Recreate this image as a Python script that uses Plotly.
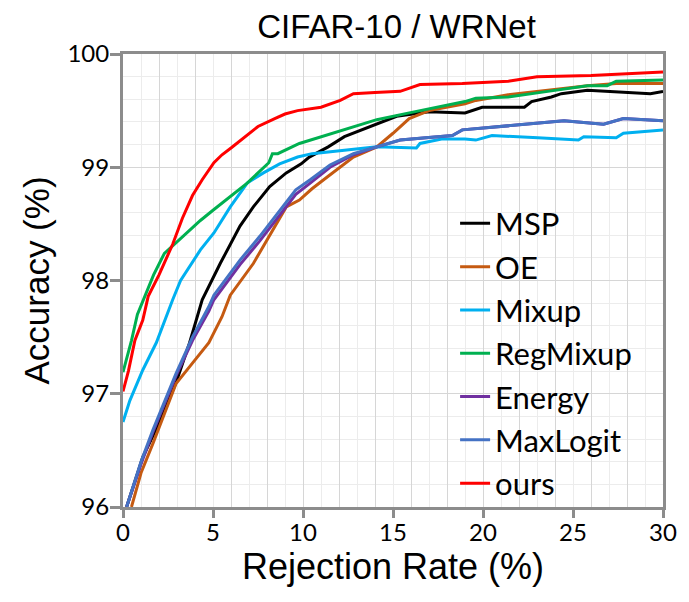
import plotly.graph_objects as go

# ---- data ----
series_names = ["MSP", "OE", "Mixup", "RegMixup", "Energy", "MaxLogit", "ours"]
series_colors = ["#000000", "#c55a11", "#00b0f0", "#00b050", "#7030a0", "#4472c4", "#ff0000"]

msp_x = [0.2, 1.1, 2.0, 2.95, 3.7, 4.4, 5.4, 6.5, 7.24, 8.15, 9.07, 9.9, 10.35, 11.4, 12.3, 13.7, 15.2, 17.0, 18.7, 19.0, 19.95, 22.3, 22.7, 23.8, 24.35, 25.8, 29.3, 30]
msp_y = [96.0, 96.44, 96.74, 97.1, 97.45, 97.83, 98.15, 98.48, 98.65, 98.83, 98.95, 99.03, 99.09, 99.18, 99.27, 99.36, 99.45, 99.49, 99.48, 99.48, 99.53, 99.53, 99.58, 99.62, 99.65, 99.68, 99.65, 99.67]

oe_x = [0.47, 1.0, 1.66, 2.3, 2.95, 3.86, 4.77, 5.5, 5.96, 7.24, 8.34, 9.07, 9.8, 10.5, 11.4, 12.8, 14.1, 15.0, 15.9, 17.0, 19.0, 19.6, 21.4, 23.6, 25.8, 27.4, 30]
oe_y = [96.0, 96.3, 96.56, 96.82, 97.09, 97.27, 97.45, 97.68, 97.87, 98.15, 98.45, 98.65, 98.71, 98.81, 98.92, 99.09, 99.18, 99.30, 99.43, 99.5, 99.56, 99.59, 99.64, 99.68, 99.72, 99.74, 99.74]

mixup_x = [0, 0.38, 1.1, 1.85, 2.76, 3.2, 4.3, 5.05, 5.96, 6.9, 7.8, 8.7, 9.7, 10.5, 12.3, 14.1, 16.3, 16.5, 17.7, 19.0, 19.6, 20.5, 23.05, 25.3, 25.6, 27.4, 27.8, 30]
mixup_y = [96.75, 96.94, 97.21, 97.45, 97.83, 98.0, 98.27, 98.42, 98.65, 98.86, 98.95, 99.03, 99.09, 99.12, 99.15, 99.18, 99.17, 99.21, 99.25, 99.25, 99.24, 99.28, 99.26, 99.24, 99.27, 99.26, 99.30, 99.33]

regmixup_x = [0, 0.2, 0.47, 0.8, 1.2, 1.7, 2.3, 3.2, 4.3, 5.0, 5.8, 6.9, 7.5, 8.1, 8.3, 8.6, 9.8, 10.4, 12.3, 14.1, 15.9, 17.2, 19.0, 19.6, 21.4, 23.6, 25.8, 26.9, 27.4, 30]
regmixup_y = [97.19, 97.3, 97.47, 97.7, 97.86, 98.05, 98.24, 98.37, 98.53, 98.62, 98.72, 98.86, 98.95, 99.04, 99.12, 99.12, 99.21, 99.24, 99.33, 99.42, 99.48, 99.52, 99.58, 99.61, 99.62, 99.67, 99.72, 99.72, 99.76, 99.77]

energy_x = [0.2, 1.0, 1.66, 2.95, 3.86, 4.77, 5.05, 6.5, 7.6, 8.7, 9.6, 10.4, 11.5, 12.8, 14.1, 15.4, 16.8, 18.3, 18.85, 19.6, 21.4, 24.5, 26.7, 27.8, 30]
energy_y = [96.0, 96.38, 96.66, 97.16, 97.47, 97.73, 97.83, 98.14, 98.35, 98.58, 98.76, 98.86, 99.0, 99.11, 99.18, 99.24, 99.26, 99.28, 99.33, 99.34, 99.37, 99.41, 99.38, 99.43, 99.41]

maxlogit_x = [0.2, 1.0, 1.66, 2.95, 3.86, 4.77, 5.05, 6.5, 7.6, 8.7, 9.6, 10.4, 11.5, 12.8, 14.1, 15.4, 16.8, 18.3, 18.85, 19.6, 21.4, 24.5, 26.7, 27.8, 30]
maxlogit_y = [96.0, 96.4, 96.68, 97.18, 97.5, 97.77, 97.87, 98.18, 98.39, 98.62, 98.8, 98.89, 99.02, 99.12, 99.18, 99.24, 99.26, 99.28, 99.33, 99.34, 99.37, 99.41, 99.38, 99.43, 99.41]

ours_x = [0, 0.3, 0.66, 1.1, 1.4, 2.0, 2.76, 3.3, 3.86, 4.4, 5.05, 5.5, 6.0, 6.7, 7.5, 8.43, 9.0, 9.7, 10.5, 11.0, 12.07, 12.8, 14.0, 15.4, 16.5, 18.85, 21.4, 23.0, 26.0, 28.2, 30]
ours_y = [97.02, 97.2, 97.47, 97.65, 97.86, 98.05, 98.32, 98.55, 98.75, 98.89, 99.04, 99.11, 99.17, 99.26, 99.36, 99.43, 99.47, 99.5, 99.52, 99.53, 99.59, 99.65, 99.66, 99.67, 99.73, 99.74, 99.76, 99.8, 99.81, 99.83, 99.84]

x_tick_vals = [0, 5, 10, 15, 20, 25, 30]
y_tick_vals = [96, 97, 98, 99, 100]

all_x = [msp_x, oe_x, mixup_x, regmixup_x, energy_x, maxlogit_x, ours_x]
all_y = [msp_y, oe_y, mixup_y, regmixup_y, energy_y, maxlogit_y, ours_y]

AXIS_GRAY = "#8c8c8c"

fig = go.Figure()
for i, (name, color, xs, ys) in enumerate(zip(series_names, series_colors, all_x, all_y)):
    # the last series (drawn on top) lives on the labelled overlay x-axis
    xa = "x2" if i == len(series_names) - 1 else "x"
    fig.add_trace(go.Scatter(x=xs, y=ys, mode="lines", name=name,
                             legendgroup=name, xaxis=xa, yaxis="y",
                             line=dict(color=color, width=3)))

# page body adds an 8px offset, so the figure is sized 8px smaller
fig.update_layout(
    width=681, height=594,
    margin=dict(l=115, r=19, t=46, b=95),
    paper_bgcolor="white", plot_bgcolor="white",
    title=dict(text="CIFAR-10 / WRNet", x=(115 + 662) / 2 / 681, xanchor="center",
               y=1 - 18 / 594, yanchor="middle", yref="container",
               font=dict(family="Liberation Sans, Arial, sans-serif", size=33, color="#000000")),
    showlegend=True,
    legend=dict(x=0.615, y=0.685, xanchor="left", yanchor="top",
                bgcolor="rgba(0,0,0,0)", borderwidth=0,
                font=dict(family="Lato, sans-serif", size=31, color="#000000"),
                tracegroupgap=1, traceorder="normal"),
    xaxis=dict(range=[0, 30], dtick=2, tick0=0, showticklabels=False, ticks="",
               showgrid=True, gridcolor="#d6d6d6", gridwidth=1,
               minor=dict(dtick=1, showgrid=True, gridcolor="#ececec", gridwidth=1),
               showline=True, linecolor=AXIS_GRAY, linewidth=3, mirror=True,
               zeroline=False, fixedrange=True),
    xaxis2=dict(range=[0, 30], overlaying="x", anchor="y", side="bottom",
                tickvals=x_tick_vals, ticks="outside", ticklen=10, tickwidth=3,
                tickcolor=AXIS_GRAY, showgrid=False, showline=False, zeroline=False,
                ticklabelstandoff=-6,
                tickfont=dict(family="Lato, sans-serif", size=24, color="#000000"),
                title=dict(text="Rejection Rate (%)", standoff=0,
                           font=dict(family="Liberation Sans, Arial, sans-serif", size=36, color="#000000"))),
    yaxis=dict(range=[96, 100], tickvals=y_tick_vals, ticks="outside", ticklen=10,
               tickwidth=3, tickcolor=AXIS_GRAY, ticklabelstandoff=-4,
               showgrid=True, gridcolor="#d6d6d6", gridwidth=1,
               minor=dict(dtick=0.2, tick0=96, showgrid=True, gridcolor="#ececec", gridwidth=1),
               showline=True, linecolor=AXIS_GRAY, linewidth=3, mirror=True,
               zeroline=False,
               tickfont=dict(family="Lato, sans-serif", size=24, color="#000000"),
               title=dict(text="Accuracy (%)", standoff=8,
                          font=dict(family="Liberation Sans, Arial, sans-serif", size=35, color="#000000"))),
)

fig.write_html("out.html")
